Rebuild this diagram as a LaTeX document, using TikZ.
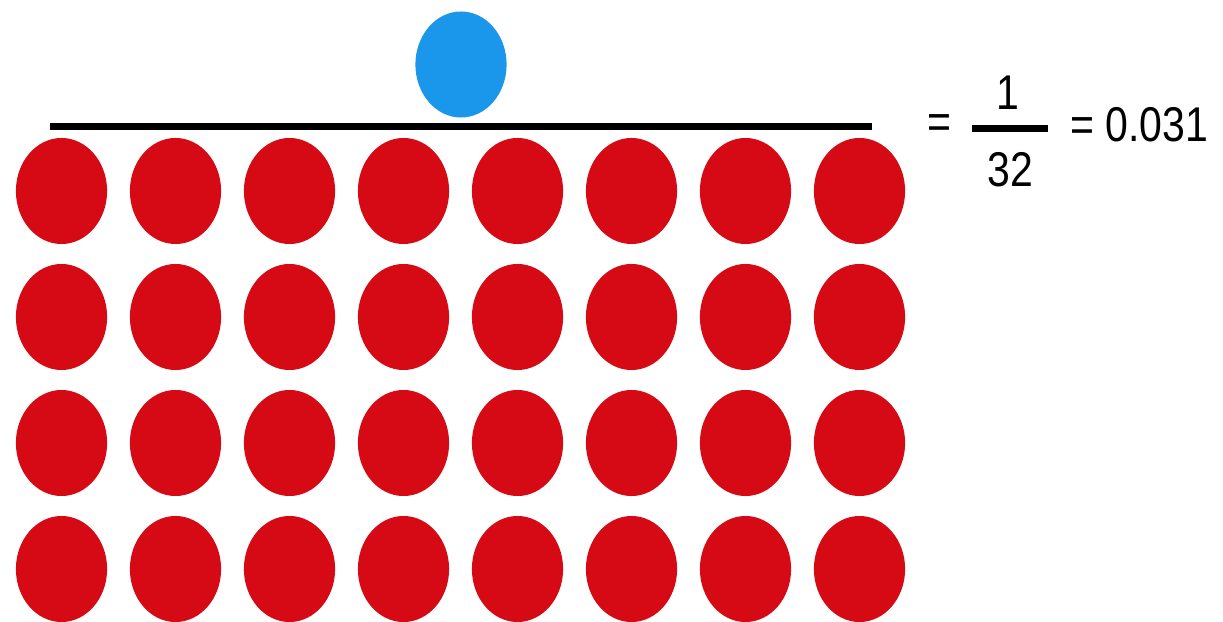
\documentclass[tikz,border=0pt]{standalone}
\usepackage{fontspec}
\setmainfont[FakeStretch=0.84]{Liberation Sans}
\usetikzlibrary{shapes.geometric}
\definecolor{dotred}{RGB}{214,10,20}
\definecolor{dotblue}{RGB}{26,150,234}

\begin{document}
\begin{tikzpicture}[x=0.025cm,y=-0.025cm,font=\fontsize{34.7}{40}\selectfont]
\tikzstyle{dot}=[ellipse,inner sep=0pt,minimum width=2.28cm,minimum height=2.65cm]
\tikzstyle{num}=[inner sep=0pt]
\useasboundingbox (0,0) rectangle (1223,622);
% the one blue dot above the bar
\node[dot,fill=dotblue] (blue) at (461,64.5) {};
\coordinate (barL) at (50,126.5);
\coordinate (barR) at (872,126.5);
\draw[line width=7*0.025cm] (barL) -- (barR);
% 4 x 8 red dots below
\foreach \r [count=\i] in {191,317,443,569}
  \foreach \c [count=\j] in {61.5,175.5,289.5,403.5,517.5,631.5,745.5,859.5}
    \node[dot,fill=dotred] (red-\i-\j) at (\c,\r) {};
% the ratio
\node[num] (eqA) at (939.5,126.5) {=};
\coordinate (fracL) at (972,128.5);
\coordinate (fracR) at (1048,128.5);
\draw[line width=7.5*0.025cm] (fracL) -- (fracR);
\node[num] (one) at (1008,92.5) {1};
\node[num] (two) at (1010,170) {32};
\node[num,anchor=west] (val) at (1070,124.5) {= 0.031};
\end{tikzpicture}
\end{document}
